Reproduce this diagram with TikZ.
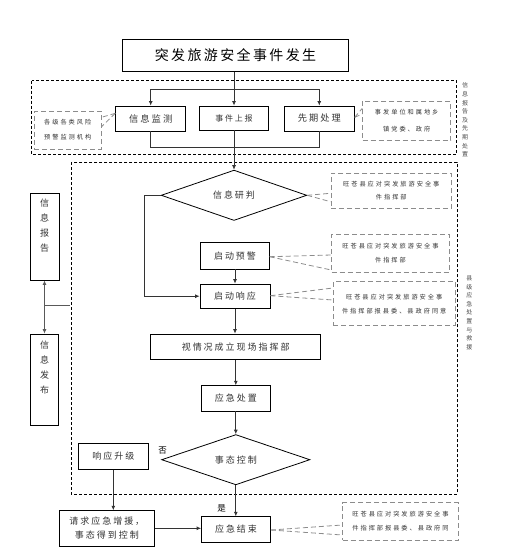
\documentclass[tikz,border=0pt]{standalone}
\usepackage{fontspec}
\setmainfont{Noto Sans CJK SC}
\newfontfamily\cjk[LetterSpace=22]{Noto Sans CJK SC}
\newfontfamily\cjks[LetterSpace=32]{Noto Sans CJK SC}
\newfontfamily\cjkt[LetterSpace=17]{Noto Sans CJK SC}
\usetikzlibrary{shapes.geometric,arrows.meta,calc}
\tikzset{
  box/.style={draw=black, line width=0.8pt, rectangle, inner sep=0pt, align=center,
    font=\cjk\fontsize{9}{13}\selectfont, text=black!80},
  dia/.style={draw=black, line width=0.8pt, diamond, inner sep=0pt,
    font=\cjk\fontsize{9}{11}\selectfont, text=black!80},
  arr/.style={draw=black!80, line width=0.8pt, -{Latex[length=4.5pt,width=4pt]}},
  ln/.style={draw=black!80, line width=0.8pt},
  grp/.style={draw=black, line width=0.7pt, dash pattern=on 3pt off 2pt},
  call/.style={draw=black!45, line width=0.9pt, dash pattern=on 5pt off 3pt, rectangle,
    inner sep=0pt, align=center, font=\cjks\fontsize{6.2}{13.5}\selectfont, text=black!80},
  ptr/.style={draw=black!45, line width=0.8pt, dash pattern=on 5pt off 3pt},
  vlab/.style={inner sep=0pt, align=center, font=\fontsize{6}{8.6}\selectfont, text=black!70},
  vtxt/.style={inner sep=0pt, align=center, font=\fontsize{9}{15}\selectfont, text=black!80},
  lbl/.style={inner sep=0pt, font=\fontsize{8.5}{10}\selectfont, text=black}
}
\begin{document}
\begin{tikzpicture}[x=1pt,y=-1pt]
\useasboundingbox (0,0) rectangle (506,557);
% group frames
\draw[grp] (31.7,80.7) rectangle (456.7,154.3);
\draw[grp] (71.3,162.3) rectangle (457.3,494.3);
% main nodes
\node[box, minimum width=225.6pt, minimum height=32pt, font=\cjkt\fontsize{14}{16}\selectfont, text=black] (top) at (235.5,55.3) {突发旅游安全事件发生};
\node[box, minimum width=70pt, minimum height=25pt, font=\cjk\fontsize{9.3}{11}\selectfont] (jc) at (150.7,118.5) {信息监测};
\node[box, minimum width=69pt, minimum height=24pt, font=\cjk\fontsize{8}{11}\selectfont] (sb) at (234,118) {事件上报};
\node[box, minimum width=70pt, minimum height=25pt, font=\cjk\fontsize{9.2}{11}\selectfont] (xq) at (319.3,118.5) {先期处理};
\node[dia, minimum width=145.6pt, minimum height=47.3pt] (yj) at (234,195.3) {信息研判};
\node[box, minimum width=68.6pt, minimum height=26.7pt] (yujing) at (235,255.7) {启动预警};
\node[box, minimum width=70pt, minimum height=24.3pt] (xy) at (235,296.2) {启动响应};
\node[box, minimum width=170pt, minimum height=25.3pt] (zhb) at (235.7,346.7) {视情况成立现场指挥部};
\node[box, minimum width=69.7pt, minimum height=25.3pt] (cz) at (235.8,398.3) {应急处置};
\node[dia, minimum width=148.3pt, minimum height=47.3pt] (kz) at (235.8,459.7) {事态控制};
\node[box, minimum width=69pt, minimum height=25.6pt] (js) at (236,529.5) {应急结束};
\node[box, minimum width=95pt, minimum height=35.3pt, font=\cjk\fontsize{9}{14.5}\selectfont] (qq) at (106.8,528.3) {请求应急增援，\\事态得到控制};
\node[box, minimum width=70pt, minimum height=26pt] (sj) at (113.3,456.3) {响应升级};
\node[box, minimum width=29pt, minimum height=86.7pt] (bg) at (44.5,236.7) {};
\node[vtxt] (bgt) at (44.5,225.5) {信\\息\\报\\告};
\node[box, minimum width=28.4pt, minimum height=91pt] (fb) at (44.5,379.5) {};
\node[vtxt] (fbt) at (44.5,368) {信\\息\\发\\布};
% labels
\node[lbl] (fou) at (162.7,450.7) {否};
\node[lbl] (shi) at (221.7,508.3) {是};
\node[vlab] (lab1) at (465,120) {信\\息\\报\\告\\及\\先\\期\\处\\置};
\node[vlab] (lab2) at (469.3,312.8) {县\\级\\应\\急\\处\\置\\与\\救\\援};
% callouts
\node[call, minimum width=66.7pt, minimum height=38pt, font=\cjks\fontsize{6.2}{15}\selectfont] (c1) at (67.7,130) {各级各类风险\\预警监测机构};
\node[call, minimum width=88pt, minimum height=39.7pt, font=\cjks\fontsize{6.2}{17}\selectfont] (c2) at (406.7,120.8) {事发单位和属地乡\\镇党委、政府};
\node[call, minimum width=120.7pt, minimum height=35pt] (c3) at (391.3,190.8) {旺苍县应对突发旅游安全事\\件指挥部};
\node[call, minimum width=117.6pt, minimum height=38pt] (c4) at (390.5,253.3) {旺苍县应对突发旅游安全事\\件指挥部};
\node[call, minimum width=121.7pt, minimum height=44pt, font=\cjks\fontsize{6.2}{14}\selectfont] (c5) at (394.2,303.7) {旺苍县应对突发旅游安全事\\件指挥部报县委、县政府同意};
\node[call, minimum width=115.6pt, minimum height=37.3pt] (c6) at (400.5,521.3) {旺苍县应对突发旅游安全事\\件指挥部报县委、县政府同};
% callout pointers
\draw[ptr] ($(jc.west)+(0,-5.2)$) -- ($(c1.east)+(0,-12.7)$);
\draw[ptr] ($(jc.west)+(0,-5.2)$) -- ($(c1.east)+(0,-3.3)$);
\draw[ptr] ($(xq.east)+(0,-1.2)$) -- ($(c2.west)+(0,-12.5)$);
\draw[ptr] ($(xq.east)+(0,-1.2)$) -- ($(c2.west)+(0,-6.8)$);
\draw[ptr] (yj.east) -- ($(c3.west)+(0,2.5)$);
\draw[ptr] (yj.east) -- ($(c3.west)+(0,10.9)$);
\draw[ptr] ($(yujing.east)+(0,1)$) -- ($(c4.west)+(0,1.7)$);
\draw[ptr] ($(yujing.east)+(0,1)$) -- ($(c4.west)+(0,16.7)$);
\draw[ptr] ($(xy.east)+(0,-0.5)$) -- ($(c5.west)+(0,-15.7)$);
\draw[ptr] ($(xy.east)+(0,-0.5)$) -- ($(c5.west)+(0,-3.7)$);
\draw[ptr] ($(js.east)+(0,0.5)$) -- ($(c6.west)+(0,3.7)$);
\draw[ptr] ($(js.east)+(0,0.5)$) -- ($(c6.west)+(0,13.7)$);
% connectors
\coordinate (br) at (234,89);
\coordinate (mg) at (234,147.3);
\coordinate (lf) at (144,195.3);
\coordinate (lk) at (69.5,305.7);
\draw[ln] (top.south -| br) -- (br);
\draw[ln] (jc.north |- br) -- (xq.north |- br);
\draw[arr] (jc.north |- br) -- (jc.north);
\draw[arr] (br) -- (sb.north);
\draw[arr] (xq.north |- br) -- (xq.north);
\draw[ln] (jc.south) -- (jc.south |- mg) -- (xq.south |- mg) -- (xq.south);
\draw[arr] (sb.south) -- (yj.north);
\draw[arr] (yj.west) -- (lf) |- (xy.west);
\draw[arr] (yujing.south) -- (xy.north);
\draw[arr] (xy.south) -- (xy.south |- zhb.north);
\draw[arr] (zhb.south -| cz) -- (cz.north);
\draw[arr] (cz.south) -- (kz.north);
\draw[arr] (kz.south) -- (kz.south |- js.north);
\draw[arr] (sj.south) -- (sj.south |- qq.north);
\draw[arr] (qq.east) -- (qq.east -| js.west);
\draw[draw=black!65, line width=1.1pt, {Latex[length=4.5pt,width=4pt]}-{Latex[length=4.5pt,width=4pt]}] (bg.south) -- (fb.north);
\draw[draw=black!65, line width=1.1pt] (bg.south |- lk) -- (lk);
\end{tikzpicture}
\end{document}
